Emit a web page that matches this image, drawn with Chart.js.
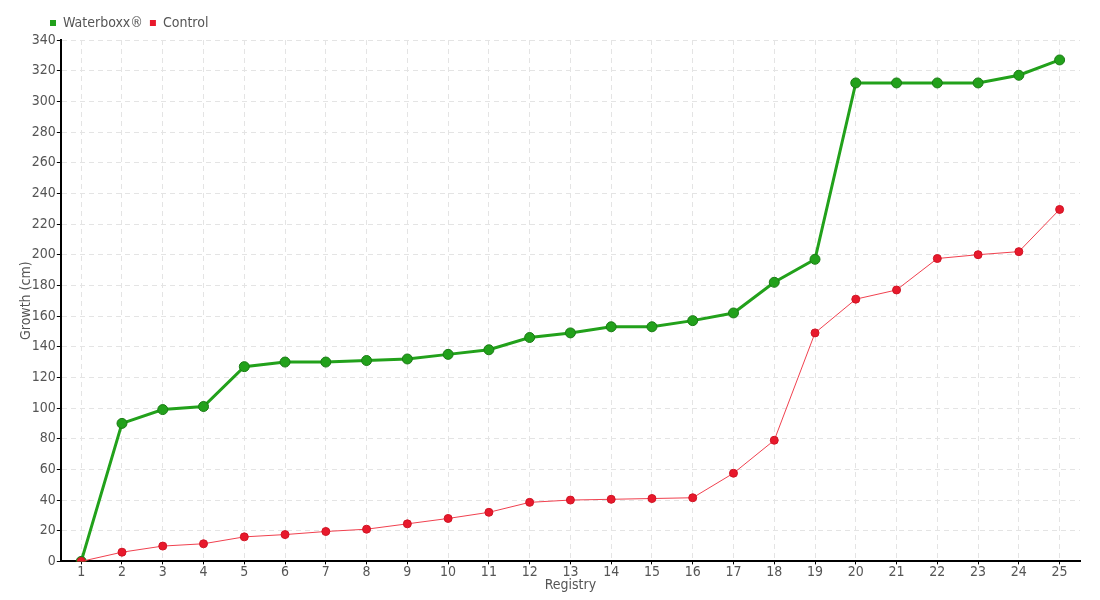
<!DOCTYPE html>
<html>
<head>
<meta charset="utf-8">
<script src="https://cdn.jsdelivr.net/npm/chart.js@4"></script>
<style>
    body { margin: 0; background: #fff; }
    #wrap { width: 1100px; height: 600px; }
</style>
</head>
<body>
<div id="wrap"><canvas id="growthChart"></canvas></div>
<script>
const registry = ['1','2','3','4','5','6','7','8','9','10','11','12','13','14','15','16','17','18','19','20','21','22','23','24','25'];
const waterboxx = [0, 90, 99, 101, 127, 130, 130, 131, 132, 135, 138, 146, 149, 153, 153, 157, 162, 182, 197, 312, 312, 312, 312, 317, 327];
const control = [0, 6, 10, 11.5, 16, 17.5, 19.5, 21, 24.5, 28, 32, 38.5, 40, 40.5, 41, 41.5, 57.5, 79, 149, 171, 177, 197.5, 200, 202, 229.5];

const font = "'DejaVu Sans Condensed', 'DejaVu Sans', sans-serif";
const textColor = '#555';

// push the legend to the right so it lines up over the y axis
const legendShift = {
    id: 'legendShift',
    afterLayout(chart) {
        if (chart.legend) {
            chart.legend.left += 25;
            chart.legend.right += 25;
        }
    }
};

document.addEventListener('DOMContentLoaded', () => {
    const ctx = document.getElementById('growthChart');
    new Chart(ctx, {
        type: 'line',
        data: {
            labels: registry,
            datasets: [{
                label: 'Waterboxx®',
                data: waterboxx,
                borderColor: '#22a11b',
                backgroundColor: '#22a11b',
                pointBackgroundColor: '#22a11b',
                pointBorderColor: '#1a7c15',
                borderWidth: 3,
                pointRadius: 5,
                pointBorderWidth: 1,
                tension: 0,
                order: 1
            }, {
                label: 'Control',
                data: control,
                borderColor: '#f0414f',
                backgroundColor: '#e8192c',
                pointBackgroundColor: '#e8192c',
                pointBorderColor: '#d01525',
                borderWidth: 1,
                pointRadius: 4,
                pointBorderWidth: 1,
                tension: 0,
                order: 0
            }]
        },
        plugins: [legendShift],
        options: {
            responsive: true,
            maintainAspectRatio: false,
            animation: false,
            layout: { padding: { left: 18, right: 20, top: 9, bottom: 6 } },
            plugins: {
                legend: {
                    align: 'start',
                    labels: {
                        boxWidth: 6,
                        boxHeight: 6,
                        padding: 7,
                        color: textColor,
                        font: { family: font, size: 14 },
                        sort: (a, b) => a.datasetIndex - b.datasetIndex,
                        generateLabels: chart => Chart.defaults.plugins.legend.labels.generateLabels(chart)
                            .map(item => ({ ...item, lineWidth: 0 }))
                    }
                },
                tooltip: { enabled: false }
            },
            scales: {
                x: {
                    offset: true,
                    grid: { color: '#e4e4e4', tickColor: '#000', tickLength: 3, offset: false },
                    border: { color: '#000', width: 2, dash: [5, 4] },
                    ticks: { color: textColor, font: { family: font, size: 14 }, padding: 0 },
                    title: { display: true, text: 'Registry', color: textColor, font: { family: font, size: 14 }, padding: { top: -4, bottom: 0 } }
                },
                y: {
                    min: 0,
                    max: 340,
                    ticks: { stepSize: 20, color: textColor, font: { family: font, size: 14 }, padding: 1 },
                    grid: { color: '#e4e4e4', tickColor: '#000', tickLength: 4 },
                    border: { color: '#000', width: 2, dash: [5, 4] },
                    title: { display: true, text: 'Growth (cm)', color: textColor, font: { family: font, size: 14 }, padding: { top: 0, bottom: -4 } }
                }
            }
        }
    });
});
</script>
</body>
</html>
